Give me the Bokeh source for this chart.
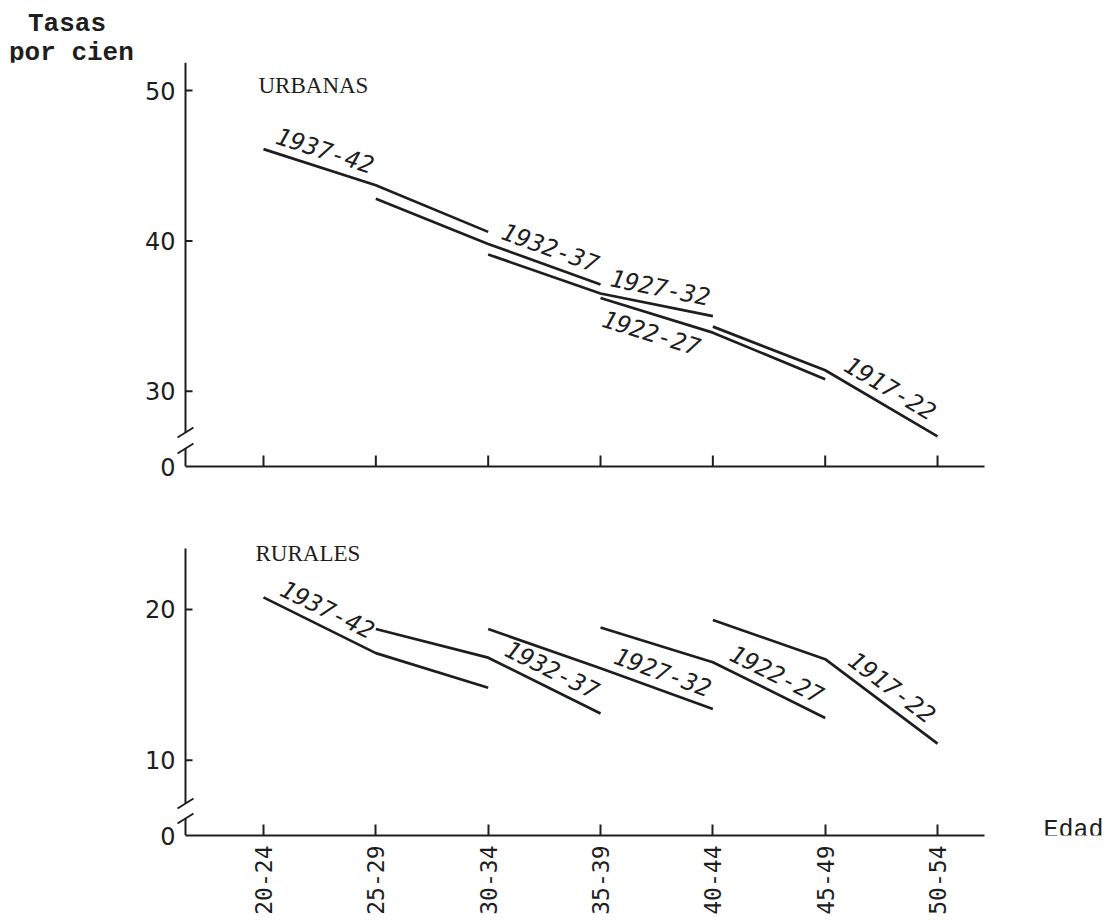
import math
from bokeh.plotting import figure
from bokeh.layouts import column
from bokeh.models import Range1d, FixedTicker, Label, ColumnDataSource, Div
from bokeh.core.properties import value
from bokeh.embed import file_html
from bokeh.resources import INLINE

# ---------------- data ----------------
ages = ["20-24", "25-29", "30-34", "35-39", "40-44", "45-49", "50-54"]
cohorts = ["1937-42", "1932-37", "1927-32", "1922-27", "1917-22"]
cohort_first_age = [0, 1, 2, 3, 4]

urban_1937_42 = [46.1, 43.7, 40.6]
urban_1932_37 = [42.8, 39.8, 37.1]
urban_1927_32 = [39.1, 36.5, 35.0]
urban_1922_27 = [36.2, 33.9, 30.8]
urban_1917_22 = [34.3, 31.4, 27.0]

rural_1937_42 = [20.8, 17.1, 14.8]
rural_1932_37 = [18.7, 16.8, 13.1]
rural_1927_32 = [18.7, 16.1, 13.4]
rural_1922_27 = [18.8, 16.5, 12.8]
rural_1917_22 = [19.3, 16.7, 11.1]

urban_ticks = [30, 40, 50]
rural_ticks = [10, 20]

urban = [urban_1937_42, urban_1932_37, urban_1927_32, urban_1922_27, urban_1917_22]
rural = [rural_1937_42, rural_1932_37, rural_1927_32, rural_1922_27, rural_1917_22]

# label placement: (segment index, side: +1 above / -1 below)
urban_label_cfg = [(0, 1), (1, 1), (1, 1), (0, -1), (1, 1)]
rural_label_cfg = [(0, 1), (1, 1), (1, 1), (1, 1), (1, 1)]

# ---------------- layout (page pixels) ----------------
W = 1108
FRAME_LEFT = 176          # frame left edge on page
AXIS_PX = 185             # drawn y-axis line on page
FIRST_TICK_PX = 263       # page x of first age group
PX_X = 112.34             # px per age group
XS = -(FIRST_TICK_PX - FRAME_LEFT) / PX_X
AX = -(FIRST_TICK_PX - AXIS_PX) / PX_X
XE = XS + (W - 2 - FRAME_LEFT) / PX_X
X_AXIS_END = 6.42
INK = "#1e1e1e"


def make_panel(height, b_top, b_bottom, y0, px_y, axis_top, series, ticks,
               cfg, gap_px, bottom_labels):
    frame_h = height - b_top - b_bottom
    y1 = y0 + frame_h / px_y
    if axis_top is None:
        axis_top = y1
    p = figure(width=W, height=height, title=None,
               x_range=Range1d(XS, XE), y_range=Range1d(y0, y1),
               output_backend="svg", toolbar_location=None,
               min_border_left=FRAME_LEFT, min_border_right=2,
               min_border_top=b_top, min_border_bottom=b_bottom)
    p.outline_line_color = None
    p.grid.visible = False
    p.background_fill_color = "white"
    p.border_fill_color = "white"

    # x axis
    xa = p.xaxis[0]
    xa.bounds = (AX, X_AXIS_END)
    xa.axis_line_width = 2
    xa.axis_line_color = INK
    xa.minor_tick_line_color = None
    if bottom_labels:
        xa.ticker = FixedTicker(ticks=list(range(len(ages))))
        xa.major_label_overrides = {i: a for i, a in enumerate(ages)}
        xa.major_tick_in = 11
        xa.major_tick_out = 0
        xa.major_tick_line_width = 2
        xa.major_tick_line_color = INK
        xa.major_label_orientation = math.pi / 2
        xa.major_label_text_font = "DejaVu Sans Mono"
        xa.major_label_text_font_size = "23px"
        xa.major_label_text_color = INK
        xa.major_label_standoff = 10
    else:
        xa.ticker = FixedTicker(ticks=[])
        xa.major_tick_line_color = None
        tx = list(range(len(ages)))
        p.segment(x0=tx, y0=[y0] * len(tx), x1=tx, y1=[y0 + 11 / px_y] * len(tx),
                  line_width=2, line_color=INK)

    # y axis: library labels, drawn line/ticks with a break
    ya = p.yaxis[0]
    ya.ticker = FixedTicker(ticks=[y0] + ticks)
    ya.major_label_overrides = {y0: "0"}
    ya.axis_line_color = None
    ya.major_tick_in = 0
    ya.major_tick_out = 0
    ya.major_tick_line_color = None
    ya.minor_tick_line_color = None
    ya.major_label_text_font = "DejaVu Sans"
    ya.major_label_text_font_size = "24px"
    ya.major_label_text_color = INK
    ya.major_label_standoff = 1

    g_lo = y0 + gap_px[0] / px_y
    g_hi = y0 + gap_px[1] / px_y
    p.segment(x0=[AX, AX], y0=[y0, g_hi], x1=[AX, AX], y1=[g_lo, axis_top],
              line_width=2, line_color=INK)
    p.segment(x0=[AX] * len(ticks), y0=ticks,
              x1=[AX + 7 / PX_X] * len(ticks), y1=ticks,
              line_width=2, line_color=INK)
    sx, sy = 8 / PX_X, 5 / px_y
    p.segment(x0=[AX - sx, AX - sx], y0=[g_lo - sy, g_hi - sy],
              x1=[AX + sx, AX + sx], y1=[g_lo + sy, g_hi + sy],
              line_width=2, line_color=INK)

    # cohort lines and labels
    lx, ly, la, lxo, lyo = [], [], [], [], []
    for i, vals in enumerate(series):
        first = cohort_first_age[i]
        xs = [first + k for k in range(len(vals))]
        p.line(xs, vals, line_width=2.7, line_color=INK)
        seg, side = cfg[i]
        v1, v2 = vals[seg], vals[seg + 1]
        a = math.atan2((v2 - v1) * px_y, PX_X)
        lx.append(first + seg + 0.5)
        ly.append(v1 + 0.5 * (v2 - v1))
        la.append(a)
        d = 18 * side
        lxo.append(-d * math.sin(a))
        lyo.append(-d * math.cos(a))
    src = ColumnDataSource(dict(x=lx, y=ly, t=cohorts, a=la, xo=lxo, yo=lyo))
    p.text(x="x", y="y", text="t", angle="a", x_offset="xo", y_offset="yo",
           source=src, text_align="center", text_baseline="middle",
           text_font=value("DejaVu Sans Mono"), text_font_style="italic",
           text_font_size="24px", text_color=INK)
    return p


# header with the axis title (page y 0..62)
HEADER_H = 62
header = Div(
    text=(
        '<div style="position:relative;width:300px;height:62px;'
        "font-family:'Liberation Mono',monospace;font-weight:bold;"
        'font-size:26px;line-height:26px;color:#1e1e1e;">'
        '<span style="position:absolute;left:28px;top:11px;white-space:pre;">Tasas</span>'
        '<span style="position:absolute;left:9px;top:40px;white-space:pre;">por cien</span>'
        '</div>'
    ),
    width=W, height=HEADER_H, margin=(0, 0, 0, 0),
)

# top panel: page y 62..482, frame 62..466, baseline (labelled 0) = 25
p1 = make_panel(420, 0, 16, 25, 15.04, None, urban, urban_ticks,
                urban_label_cfg, (18, 34), False)
# bottom panel: page y 482..919, frame 520..835, baseline (labelled 0) = 5
p2 = make_panel(437, 38, 84, 5, 15.07, 5 + (835 - 548) / 15.07, rural,
                rural_ticks, rural_label_cfg, (17, 32), True)

p1.add_layout(Label(x=XS + (258 - FRAME_LEFT) / PX_X, y=25 + (466 - 85) / 15.04,
                    text="URBANAS", text_font="Liberation Serif",
                    text_font_size="23px", text_color=INK,
                    text_baseline="alphabetic"))
p2.add_layout(Label(x=XS + (255 - FRAME_LEFT) / PX_X, y=5 + (835 - 553) / 15.07,
                    text="RURALES", text_font="Liberation Serif",
                    text_font_size="23px", text_color=INK,
                    text_baseline="alphabetic"))
p2.add_layout(Label(x=XS + (1043 - FRAME_LEFT) / PX_X, y=5 + 5 / 15.07, text="Edad",
                    text_font="Liberation Mono", text_font_size="25px",
                    text_color=INK, text_align="left",
                    text_baseline="alphabetic"))

layout = column(header, p1, p2, spacing=0)
open("out.html", "w").write(file_html(layout, INLINE))
